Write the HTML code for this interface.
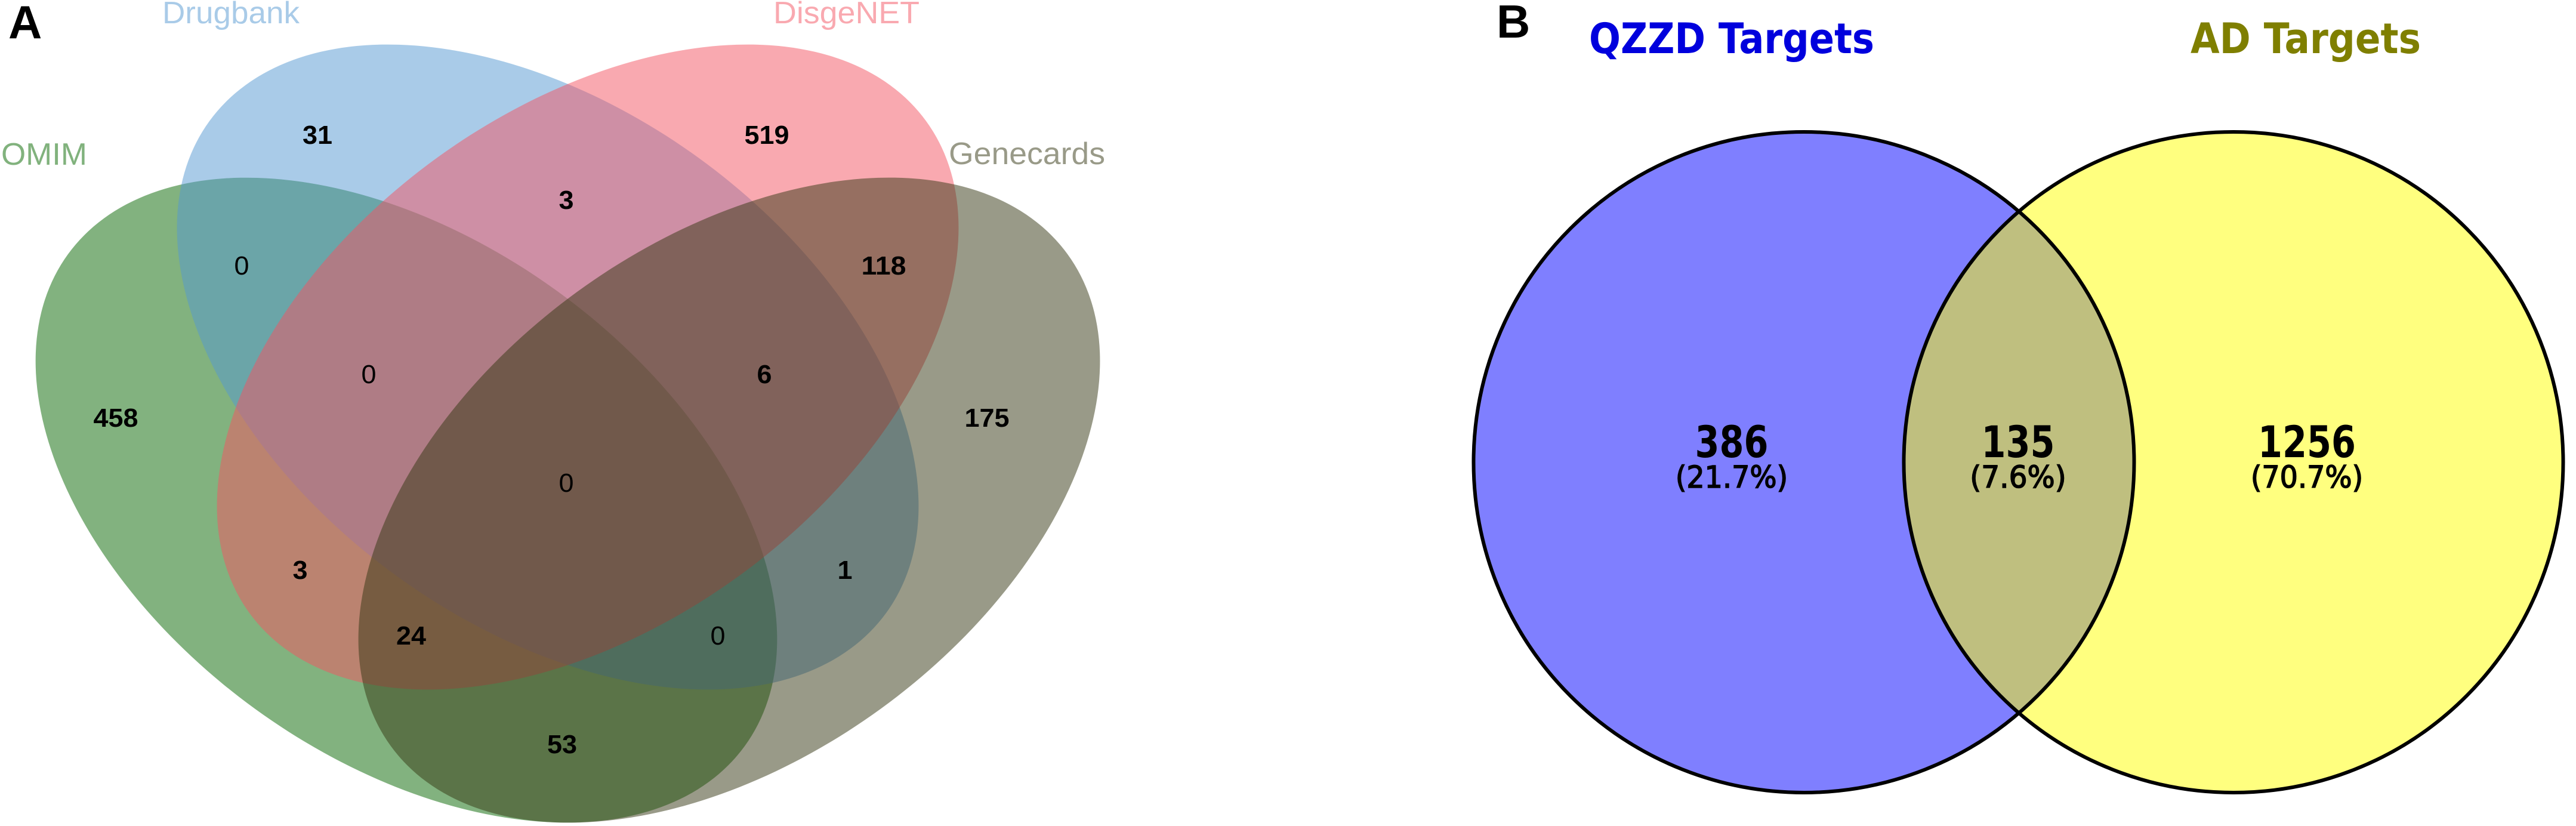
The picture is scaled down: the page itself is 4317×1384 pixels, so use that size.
<!DOCTYPE html>
<html lang="en">
<head>
<meta charset="utf-8">
<title>Venn diagrams of disease and compound targets</title>
<style>
html,body{margin:0;padding:0;background:#fff;width:4317px;height:1384px;overflow:hidden}
svg{display:block}
.sans{font-family:"Liberation Sans",sans-serif}
.dv{font-family:"DejaVu Sans",sans-serif}
</style>
</head>
<body>
<svg id="figure" xmlns="http://www.w3.org/2000/svg" width="4317" height="1384" viewBox="0 0 4317 1384">
  <rect x="0" y="0" width="4317" height="1384" fill="#ffffff"/>

  <g id="panel-a">
    <path d="M113.9 426 A700 431.4 36 1 0 1248.1 1250 A700 431.4 36 1 0 113.9 426 Z" fill="rgb(5,101,0)" fill-opacity="0.5"/>
    <path d="M350.9 203 A700 431.4 36 1 0 1485.1 1027 A700 431.4 36 1 0 350.9 203 Z" fill="rgb(83,151,209)" fill-opacity="0.5"/>
    <path d="M417.9 1027 A700 431.4 -36 1 0 1552.1 203 A700 431.4 -36 1 0 417.9 1027 Z" fill="rgb(243,83,97)" fill-opacity="0.5"/>
    <path d="M654.9 1250 A700 431.4 -36 1 0 1789.1 426 A700 431.4 -36 1 0 654.9 1250 Z" fill="rgb(51,53,17)" fill-opacity="0.5"/>
    <text class="sans" x="14" y="64" font-size="78" font-weight="700" fill="#000">A</text>
    <text class="sans" x="272" y="39" font-size="52" textLength="230" lengthAdjust="spacingAndGlyphs" fill="#a9cbe8">Drugbank</text>
    <text class="sans" x="1296" y="39" font-size="52" textLength="245" lengthAdjust="spacingAndGlyphs" fill="#f9a9b0">DisgeNET</text>
    <text class="sans" x="2" y="276" font-size="52" textLength="144" lengthAdjust="spacingAndGlyphs" fill="#81b27d">OMIM</text>
    <text class="sans" x="1590" y="275" font-size="52" textLength="262" lengthAdjust="spacingAndGlyphs" fill="#999a88">Genecards</text>
    <g id="region-counts"></g>
  </g>

  <g id="panel-b">
    <ellipse cx="3023" cy="774.5" rx="553.5" ry="553.5" fill="#0000ff" fill-opacity="0.5"/>
    <ellipse cx="3743" cy="774.5" rx="552.5" ry="553.5" fill="#ffff00" fill-opacity="0.5"/>
    <ellipse cx="3023" cy="774.5" rx="553.5" ry="553.5" fill="none" stroke="#000" stroke-width="6"/>
    <ellipse cx="3743" cy="774.5" rx="552.5" ry="553.5" fill="none" stroke="#000" stroke-width="6"/>
    <text class="sans" x="2508" y="63" font-size="78" font-weight="700" fill="#000">B</text>
    <text class="dv" x="2663" y="89" font-size="70" font-weight="700" textLength="478" lengthAdjust="spacingAndGlyphs" fill="#0000dd">QZZD Targets</text>
    <text class="dv" x="3671" y="89" font-size="70" font-weight="700" textLength="386" lengthAdjust="spacingAndGlyphs" fill="#7f7f00">AD Targets</text>
    <g id="pair-counts"></g>
  </g>
</svg>

<script>
// Panel A: one printed count per Venn region
const regionNames = ["drugbank-only","disgenet-only","drugbank-disgenet","omim-drugbank","disgenet-genecards","omim-drugbank-disgenet","drugbank-disgenet-genecards","omim-only","genecards-only","all-four","omim-disgenet","drugbank-genecards","omim-disgenet-genecards","omim-drugbank-genecards","omim-genecards"];
const regionCounts = [31,519,3,0,118,0,6,458,175,0,3,1,24,0,53];

// Panel B: counts per region of the two-set diagram
const pairNames = ["qzzd-only","overlap","ad-only"];
const pairCounts = [386,135,1256];

const SVGNS = "http://www.w3.org/2000/svg";

// Fixed label anchors belonging to the diagram layout
function regionAnchor(name){
  switch(name){
    case "drugbank-only": return [532,241];
    case "disgenet-only": return [1285,241];
    case "drugbank-disgenet": return [949,350];
    case "omim-drugbank": return [405,460];
    case "disgenet-genecards": return [1481,460];
    case "omim-drugbank-disgenet": return [618,642];
    case "drugbank-disgenet-genecards": return [1281,642];
    case "omim-only": return [194,715];
    case "genecards-only": return [1654,715];
    case "all-four": return [949,824];
    case "omim-disgenet": return [503,970];
    case "drugbank-genecards": return [1416,970];
    case "omim-disgenet-genecards": return [689,1080];
    case "omim-drugbank-genecards": return [1203,1080];
    default: return [942,1262];
  }
}
function pairCenter(name){
  if(name==="qzzd-only") return 2902;
  if(name==="overlap") return 3382;
  return 3866;
}

const regionLayer = document.getElementById("region-counts");
regionNames.forEach(function(name,i){
  const pos = regionAnchor(name);
  const label = String(regionCounts[i]);
  const el = document.createElementNS(SVGNS,"text");
  
  
  el.setAttribute("class","sans");
  el.setAttribute("x",pos[0]);
  el.setAttribute("y",pos[1]);
  el.setAttribute("font-size","44");
  el.setAttribute("text-anchor","middle");
  el.setAttribute("textLength",label.length*25);
  el.setAttribute("lengthAdjust","spacingAndGlyphs");
  el.setAttribute("font-weight",regionCounts[i]===0?"400":"700");
  el.setAttribute("fill","#000");
  el.textContent = label;
  regionLayer.appendChild(el);
});

const pairLayer = document.getElementById("pair-counts");
const pairTotal = pairCounts.reduce(function(a,b){return a+b;},0);
pairNames.forEach(function(name,i){
  const cx = pairCenter(name);
  const digits = String(pairCounts[i]);
  const num = document.createElementNS(SVGNS,"text");
  
  
  num.setAttribute("class","dv");
  num.setAttribute("x",cx);
  num.setAttribute("y","766");
  num.setAttribute("font-size","73");
  num.setAttribute("font-weight","700");
  num.setAttribute("text-anchor","middle");
  num.setAttribute("textLength",digits.length*41);
  num.setAttribute("lengthAdjust","spacingAndGlyphs");
  num.setAttribute("fill","#000");
  num.textContent = digits;
  pairLayer.appendChild(num);

  const pctText = "(" + (pairCounts[i]/pairTotal*100).toFixed(1) + "%)";
  const pct = document.createElementNS(SVGNS,"text");
  
  
  pct.setAttribute("class","dv");
  pct.setAttribute("x",cx);
  pct.setAttribute("y","817");
  pct.setAttribute("font-size","51");
  pct.setAttribute("text-anchor","middle");
  pct.setAttribute("textLength",pctText.length*26.9);
  pct.setAttribute("lengthAdjust","spacingAndGlyphs");
  pct.setAttribute("stroke","#000");
  pct.setAttribute("stroke-width","1.6");
  pct.setAttribute("fill","#000");
  pct.textContent = pctText;
  pairLayer.appendChild(pct);
});
</script>
</body>
</html>
